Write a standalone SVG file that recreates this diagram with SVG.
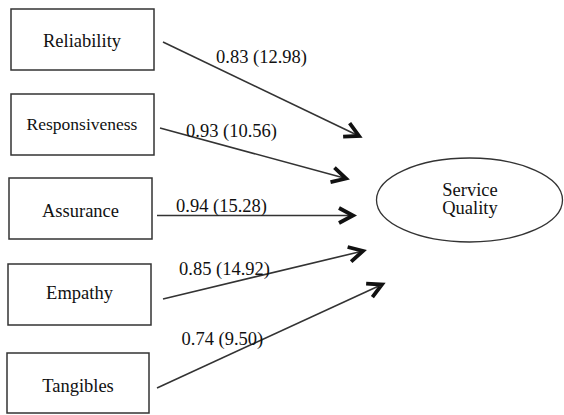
<svg xmlns="http://www.w3.org/2000/svg" width="564" height="415" viewBox="0 0 564 415" font-family="'Liberation Serif', 'DejaVu Serif', serif">
<style>
.box{fill:#fff;stroke:#333;stroke-width:1.5}
.lbl{font-family:'Liberation Serif','DejaVu Serif',serif;font-size:18.5px;fill:#111}
.mid{text-anchor:middle}
.conn{stroke:#333;stroke-width:1.6;fill:none;marker-end:url(#ah)}
</style>
<defs>
<marker id="ah" markerUnits="userSpaceOnUse" markerWidth="30" markerHeight="30" refX="15" refY="15" orient="auto" viewBox="0 0 30 30">
<path d="M1,7.5 L15,15 L1,22.5" fill="none" stroke="#111" stroke-width="3.8" stroke-linejoin="miter"/>
</marker>
</defs>
<rect width="564" height="415" fill="#fff"/>
<g id="reliability"><rect class="box" x="11" y="9" width="143" height="61"/><text class="lbl mid" x="82" y="46.5">Reliability</text></g>
<g id="responsiveness"><rect class="box" x="11" y="94" width="143" height="61"/><text class="lbl mid" x="82" y="130" style="font-size:17.5px">Responsiveness</text></g>
<g id="assurance"><rect class="box" x="9" y="178" width="143" height="61"/><text class="lbl mid" x="80.5" y="216.5">Assurance</text></g>
<g id="empathy"><rect class="box" x="8" y="264" width="143" height="61"/><text class="lbl mid" x="79.5" y="299">Empathy</text></g>
<g id="tangibles"><rect class="box" x="7" y="353" width="142" height="60"/><text class="lbl mid" x="78" y="391.5">Tangibles</text></g>
<g id="service-quality"><ellipse cx="469.5" cy="200" rx="93" ry="42" fill="#fff" stroke="#333" stroke-width="1.3"/><text class="lbl mid" x="470" y="195.5">Service</text><text class="lbl mid" x="470" y="214">Quality</text></g>
<g id="connectors">
<line class="conn" x1="163" y1="42" x2="359" y2="136"/>
<line class="conn" x1="160" y1="128" x2="346" y2="178.5"/>
<line class="conn" x1="157" y1="215.5" x2="353" y2="215.5"/>
<line class="conn" x1="163" y1="299" x2="363" y2="251"/>
<line class="conn" x1="157" y1="388" x2="382" y2="284.5"/>
<text class="lbl" x="216" y="63">0.83 (12.98)</text>
<text class="lbl" x="186" y="137">0.93 (10.56)</text>
<text class="lbl" x="176" y="212">0.94 (15.28)</text>
<text class="lbl" x="179" y="275">0.85 (14.92)</text>
<text class="lbl" x="181.5" y="345">0.74 (9.50)</text>
</g>
</svg>
